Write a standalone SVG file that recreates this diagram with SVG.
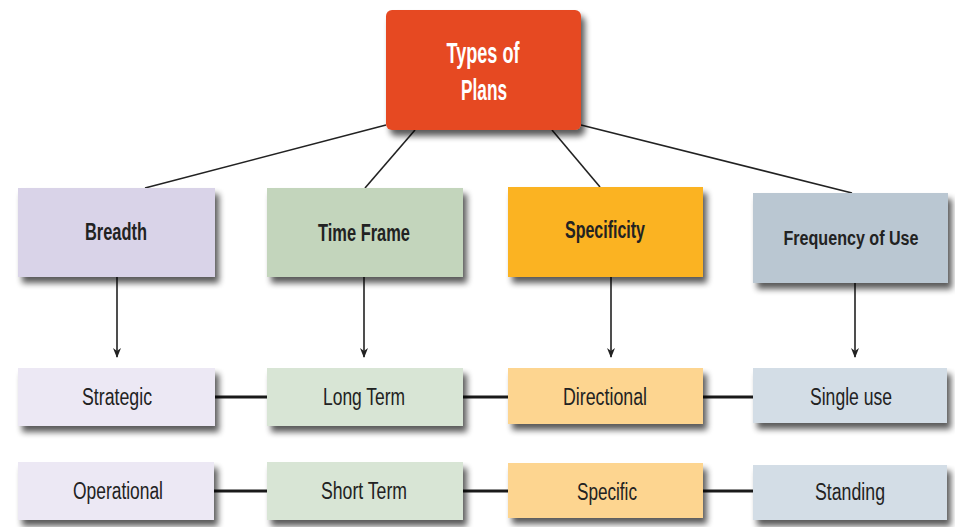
<svg xmlns="http://www.w3.org/2000/svg" width="955" height="527" viewBox="0 0 955 527">
<defs>
<filter id="sh" x="-10%" y="-10%" width="125%" height="140%">
<feGaussianBlur in="SourceAlpha" stdDeviation="3"/>
<feOffset dx="4" dy="6" result="b"/>
<feComponentTransfer><feFuncA type="linear" slope="0.65"/></feComponentTransfer>
<feMerge><feMergeNode/><feMergeNode in="SourceGraphic"/></feMerge>
</filter>
<marker id="arr" viewBox="0 0 10 10" refX="9" refY="5" markerWidth="10" markerHeight="10" markerUnits="userSpaceOnUse" orient="auto">
<path d="M0,1 L10,5 L0,9 L3,5 Z" fill="#222"/>
</marker>
</defs>
<style>
.t{font-family:"Liberation Sans",Arial,sans-serif;text-anchor:middle;fill:#222;}
.cat{font-size:24px;font-weight:bold;}
.sub{font-size:23px;}
.ttl{font-size:29px;font-weight:bold;fill:#fff;}
.ln{stroke:#222;stroke-width:1.6;fill:none;}
.hz{stroke:#1a1a1a;stroke-width:3;fill:none;}
</style>
<rect width="955" height="527" fill="#fff"/>
<g id="connectors">
<line class="ln" x1="386" y1="125" x2="145" y2="188"/>
<line class="ln" x1="415" y1="130" x2="365" y2="188"/>
<line class="ln" x1="552" y1="130" x2="600" y2="187"/>
<line class="ln" x1="581" y1="125" x2="852" y2="193"/>
<line class="ln" x1="117" y1="277" x2="117" y2="357" marker-end="url(#arr)"/>
<line class="ln" x1="364" y1="277" x2="364" y2="357" marker-end="url(#arr)"/>
<line class="ln" x1="611" y1="277" x2="611" y2="357" marker-end="url(#arr)"/>
<line class="ln" x1="855" y1="283" x2="855" y2="357" marker-end="url(#arr)"/>
<line class="hz" x1="215" y1="397" x2="267" y2="397"/>
<line class="hz" x1="463" y1="397" x2="508" y2="397"/>
<line class="hz" x1="703" y1="397" x2="753" y2="397"/>
<line class="hz" x1="214" y1="491" x2="267" y2="491"/>
<line class="hz" x1="463" y1="491" x2="508" y2="491"/>
<line class="hz" x1="703" y1="491" x2="753" y2="491"/>
</g>
<g id="types-of-plans">
<rect x="386" y="10" width="195" height="120" rx="6" fill="#E64A22" filter="url(#sh)"/>
<text class="t ttl" x="483" y="63" textLength="73" lengthAdjust="spacingAndGlyphs">Types of</text>
<text class="t ttl" x="484" y="100" textLength="46" lengthAdjust="spacingAndGlyphs">Plans</text>
</g>
<g id="breadth">
<rect x="18" y="188" width="197" height="89" fill="#D9D3E8" filter="url(#sh)"/>
<text class="t cat" x="116" y="240" textLength="62" lengthAdjust="spacingAndGlyphs">Breadth</text>
</g>
<g id="time-frame">
<rect x="267" y="188" width="196" height="89" fill="#C3D5BC" filter="url(#sh)"/>
<text class="t cat" x="364" y="241" textLength="92" lengthAdjust="spacingAndGlyphs">Time Frame</text>
</g>
<g id="specificity">
<rect x="508" y="187" width="195" height="90" fill="#FBB322" filter="url(#sh)"/>
<text class="t cat" x="605" y="238" textLength="80" lengthAdjust="spacingAndGlyphs">Specificity</text>
</g>
<g id="frequency">
<rect x="753" y="193" width="195" height="90" fill="#BAC7D2" filter="url(#sh)"/>
<text class="t cat" x="851" y="245" textLength="135" lengthAdjust="spacingAndGlyphs" style="font-size:20px">Frequency of Use</text>
</g>
<g id="strategic">
<rect x="18" y="368" width="197" height="58" fill="#ECE8F4" filter="url(#sh)"/>
<text class="t sub" x="117" y="405" textLength="70" lengthAdjust="spacingAndGlyphs">Strategic</text>
</g>
<g id="long-term">
<rect x="267" y="368" width="196" height="58" fill="#D8E5D5" filter="url(#sh)"/>
<text class="t sub" x="364" y="405" textLength="82" lengthAdjust="spacingAndGlyphs">Long Term</text>
</g>
<g id="directional">
<rect x="508" y="368" width="195" height="56" fill="#FDD590" filter="url(#sh)"/>
<text class="t sub" x="605" y="405" textLength="84" lengthAdjust="spacingAndGlyphs">Directional</text>
</g>
<g id="single-use">
<rect x="753" y="368" width="194" height="55" fill="#D3DDE6" filter="url(#sh)"/>
<text class="t sub" x="851" y="405" textLength="82" lengthAdjust="spacingAndGlyphs">Single use</text>
</g>
<g id="operational">
<rect x="18" y="462" width="196" height="58" fill="#ECE8F4" filter="url(#sh)"/>
<text class="t sub" x="118" y="499" textLength="90" lengthAdjust="spacingAndGlyphs">Operational</text>
</g>
<g id="short-term">
<rect x="267" y="462" width="196" height="58" fill="#D8E5D5" filter="url(#sh)"/>
<text class="t sub" x="364" y="499" textLength="86" lengthAdjust="spacingAndGlyphs">Short Term</text>
</g>
<g id="specific">
<rect x="508" y="463" width="195" height="55" fill="#FDD590" filter="url(#sh)"/>
<text class="t sub" x="607" y="500" textLength="60" lengthAdjust="spacingAndGlyphs">Specific</text>
</g>
<g id="standing">
<rect x="753" y="465" width="194" height="55" fill="#D3DDE6" filter="url(#sh)"/>
<text class="t sub" x="850" y="500" textLength="70" lengthAdjust="spacingAndGlyphs">Standing</text>
</g>
</svg>
